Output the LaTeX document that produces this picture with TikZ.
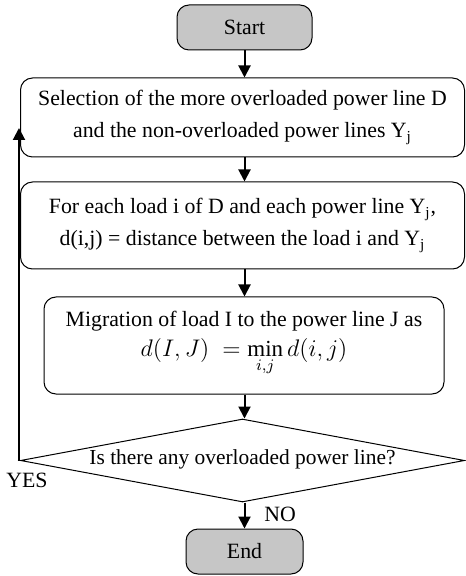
\documentclass[tikz,border=0pt]{standalone}
\usepackage{amsmath}
\usepackage{fontspec}
\setmainfont{Liberation Serif}
\usetikzlibrary{arrows.meta,shapes.geometric}

\tikzset{
  box/.style={draw, line width=0.5pt, rounded corners=6pt, align=center,
    inner sep=0pt},
  term/.style={box, fill=gray!45},
  flow/.style={-{Triangle[width=6pt,length=6pt]}, line width=1pt}
}

\begin{document}
\begin{tikzpicture}[font=\fontsize{10.9}{16}\selectfont]
  \useasboundingbox (0,0) rectangle (232.5pt,-288pt);

  % Terminals
  \node[term, minimum width=67.5pt, minimum height=22.5pt] (start) at (122.25pt,-13.75pt) {Start};
  \node[term, minimum width=58.5pt, minimum height=22.5pt] (stop) at (122.25pt,-275.75pt) {End};

  % Process steps
  \node[box, minimum width=222pt, minimum height=39.5pt] (select) at (121.25pt,-58.75pt)
    {Selection of the more overloaded power line D\\and the non-overloaded power lines Y\textsubscript{j}};
  \node[box, minimum width=222pt, minimum height=43.5pt] (dist) at (121.25pt,-112.75pt)
    {For each load i of D and each power line Y\textsubscript{j},\\d(i,j) = distance between the load i and Y\textsubscript{j}};
  \node[box, minimum width=200pt, minimum height=48.5pt] (migrate) at (122pt,-172.75pt)
    {Migration of load I to the power line J as\\[-1pt]
     {\fontsize{11.5}{14}\selectfont $d(I,J)\;=\min\limits_{i,j} d(i,j)$}\rule[-12pt]{0pt}{0pt}};

  % Decision
  \node[diamond, draw, line width=0.5pt, minimum width=222pt, minimum height=41.5pt,
    inner sep=0pt, aspect=5.3] (check) at (121.25pt,-230.25pt) {};
  \node[font=\fontsize{10.7}{16}\selectfont] (ask) at ([yshift=0.8pt]check.center) {Is there any overloaded power line?};

  \node (yes) at (13.5pt,-240pt) {YES};
  \node (no) at (140pt,-257pt) {NO};

  \coordinate (back) at ([yshift=-5.25pt]select.west);

  \draw[flow] (start.south) -- (start.south |- select.north);
  \draw[flow] (select.south -| start.south) -- (dist.north -| start.south);
  \draw[flow] (dist.south -| start.south) -- (migrate.north -| start.south);
  \draw[flow] (migrate.south -| start.south) -- (check.north -| start.south);
  \draw[flow] (check.south -| start.south) -- (stop.north);
  \draw[flow] ([xshift=-0.5pt]check.west) -- ([xshift=-0.5pt]check.west |- back);
\end{tikzpicture}
\end{document}
